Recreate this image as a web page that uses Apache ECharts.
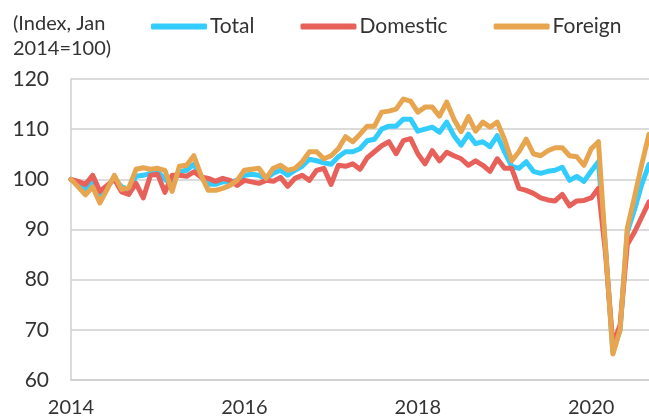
<!DOCTYPE html>
<html>
<head>
<meta charset="utf-8">
<script src="https://cdn.jsdelivr.net/npm/echarts@6/dist/echarts.min.js"></script>
<style>
  html, body { margin: 0; padding: 0; background: #fff; }
  #chart { width: 649px; height: 418px; }
</style>
</head>
<body>
<div id="chart"></div>
<script>
// monthly index, Jan 2014 = 100, through Sep 2020
const start_year = 2014;
const month_count = 81;
const tick_years = ['2014', '2016', '2018', '2020'];

const total = [
    100, 99, 98, 99.5, 97, 98.5, 100.2, 98.5, 98, 100.6, 100.8, 101.2,
    101.5, 100, 99, 101.5, 101.8, 103, 100.5, 99, 99, 99.5, 99.5, 99.8,
    100.8, 101, 100.8, 100.2, 101.2, 101.8, 100.8, 101.8, 102.6, 104, 103.7, 103.3,
    103, 104.5, 105.5, 105.5, 106.1, 107.7, 108, 110, 110.6, 110.6, 112, 112,
    109.6, 110, 110.4, 109.4, 111.4, 108.7, 106.8, 109, 107.1, 107.5, 106.5, 108.7,
    105.5, 102.6, 102.2, 103.5, 101.6, 101.2, 101.6, 101.8, 102.4, 99.8, 100.6, 99.6,
    101.6, 103.5, 86, 65.5, 70, 89.5, 94, 99, 103
];
const domestic = [
    100, 99.6, 99, 100.8, 97.6, 98.8, 100, 97.5, 97, 99.2, 96.3, 100.8,
    101, 97.4, 100.8, 100.8, 100.6, 101.5, 100.5, 100.2, 99.6, 100.2, 99.8, 98.8,
    99.8, 99.5, 99.2, 99.8, 99.6, 100.4, 98.6, 100.2, 100.8, 99.8, 101.8, 102.2,
    99, 102.8, 102.6, 103.1, 102, 104.3, 105.5, 106.7, 107.5, 105.1, 107.7, 108.1,
    105.1, 103.1, 105.7, 103.7, 105.4, 104.7, 104.1, 102.8, 103.7, 102.8, 101.6, 104.1,
    102.2, 102.2, 98.2, 97.8, 97.2, 96.3, 95.9, 95.7, 97, 94.7, 95.7, 95.8,
    96.3, 98.2, 85, 67, 71, 87, 89.5, 92.5, 95.5
];
const foreign = [
    100, 98.5, 96.9, 98.5, 95.3, 98, 100.8, 98, 98.3, 102, 102.3, 102,
    102.2, 101.8, 97.6, 102.6, 102.8, 104.7, 100.8, 97.8, 97.8, 98.2, 98.8, 99.8,
    101.8, 102, 102.2, 100.2, 102.2, 102.8, 101.8, 102.2, 103.5, 105.5, 105.5, 104.1,
    104.7, 106.1, 108.5, 107.5, 109, 110.6, 110.6, 113.4, 113.6, 114, 116, 115.6,
    113.4, 114.4, 114.4, 112.6, 115.4, 112, 109.5, 112.5, 109.6, 111.4, 110.4, 111.4,
    108, 103.7, 105.5, 108, 105.1, 104.7, 105.7, 106.3, 106.3, 104.7, 104.5, 102.8,
    106.1, 107.5, 86, 65.2, 70, 90.3, 96.5, 103, 109
];

let months = [];
for (let i = 0; i < month_count; i++) {
    let y = start_year + Math.floor(i / 12);
    let m = i % 12 + 1;
    months.push(y + '-' + (m < 10 ? '0' + m : m));
}

const font = 'Lato, "Open Sans", sans-serif';
const text_color = '#333';

let chart = echarts.init(document.getElementById('chart'));
chart.setOption({
    animation: false,
    backgroundColor: '#fff',
    color: ['#33ccff', '#e8605a', '#e6a54e'],
    title: {
        text: '(Index, Jan\n2014=100)',
        left: 8, top: 6,
        textStyle: { fontFamily: font, fontSize: 20, fontWeight: 'normal', color: text_color, lineHeight: 25 }
    },
    legend: {
        left: 146, top: 11,
        itemWidth: 56, itemHeight: 6, itemGap: 46,
        icon: 'roundRect',
        textStyle: { fontFamily: font, fontSize: 21, color: text_color, padding: [0, 0, 0, -2] },
        data: ['Total', 'Domestic', 'Foreign']
    },
    grid: { left: 71, right: 0, top: 79, bottom: 34 },
    xAxis: {
        type: 'category',
        data: months,
        boundaryGap: false,
        axisLine: { lineStyle: { color: '#cfcfcf', width: 1.5 } },
        axisTick: { show: false },
        axisLabel: {
            fontFamily: font, fontSize: 20, color: text_color, margin: 18,
            interval: (i, v) => tick_years.includes(v.slice(0, 4)) && v.slice(5) == '01',
            formatter: v => v.slice(0, 4)
        },
        splitLine: { show: false }
    },
    yAxis: {
        type: 'value',
        min: 60, max: 120, interval: 10,
        axisLine: { show: true, lineStyle: { color: '#cfcfcf', width: 1.5 } },
        axisTick: { show: false },
        axisLabel: { fontFamily: font, fontSize: 21, color: text_color, margin: 22 },
        splitLine: { lineStyle: { color: '#cfcfcf', width: 1.5 } }
    },
    series: [
        { name: 'Total', type: 'line', data: total },
        { name: 'Domestic', type: 'line', data: domestic },
        { name: 'Foreign', type: 'line', data: foreign },
    ].map(s => Object.assign(s, {
        symbol: 'none',
        lineStyle: { width: 5, cap: 'round', join: 'round' }
    }))
});
</script>
</body>
</html>
